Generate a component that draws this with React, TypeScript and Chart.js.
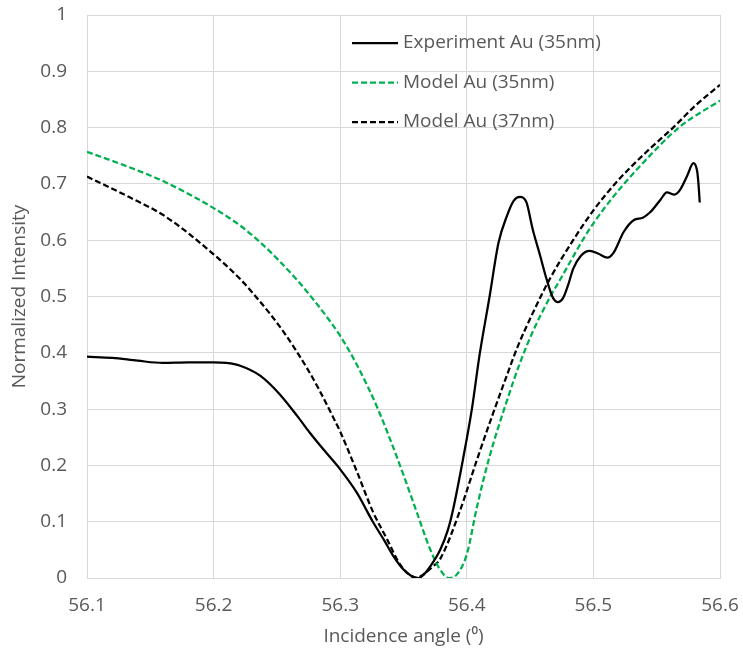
import React, { useEffect, useRef } from "react";
import { Chart, registerables } from "chart.js";

Chart.register(...registerables);

// Experiment Au (35nm)
const expAngle = [
  56.1, 56.12, 56.14, 56.16, 56.18, 56.2, 56.21, 56.221, 56.237, 56.252,
  56.266, 56.276, 56.288, 56.3, 56.313, 56.326, 56.335, 56.342, 56.35, 56.356,
  56.362, 56.366, 56.371, 56.379, 56.385, 56.389, 56.397, 56.404, 56.41, 56.418,
  56.425, 56.432, 56.437, 56.442, 56.447, 56.452, 56.458, 56.463, 56.468, 56.472,
  56.476, 56.48, 56.484, 56.49, 56.497, 56.504, 56.511, 56.516, 56.524, 56.532,
  56.539, 56.545, 56.553, 56.558, 56.564, 56.568, 56.574, 56.579, 56.582, 56.583,
  56.584,
];
const expIntensity = [
  0.393, 0.391, 0.386, 0.382, 0.383, 0.383, 0.382, 0.377, 0.359, 0.327,
  0.288, 0.258, 0.225, 0.193, 0.152, 0.099, 0.066, 0.039, 0.015, 0.004,
  0.0, 0.006, 0.02, 0.05, 0.085, 0.12, 0.211, 0.3, 0.395, 0.5,
  0.595, 0.645, 0.67, 0.677, 0.668, 0.62, 0.572, 0.531, 0.498, 0.49,
  0.497, 0.52, 0.549, 0.572, 0.581, 0.576, 0.569, 0.578, 0.615, 0.636,
  0.64, 0.65, 0.672, 0.685, 0.681, 0.688, 0.714, 0.737, 0.722, 0.7,
  0.667,
];

// Model Au (35nm)
const model35Angle = [
  56.1, 56.133, 56.162, 56.2, 56.221, 56.237, 56.252, 56.268, 56.279, 56.292,
  56.3, 56.31, 56.322, 56.33, 56.34, 56.35, 56.36, 56.37, 56.378, 56.386,
  56.392, 56.4, 56.408, 56.418, 56.432, 56.442, 56.452, 56.466, 56.474, 56.492,
  56.5, 56.516, 56.537, 56.568, 56.6,
];
const model35Intensity = [
  0.757, 0.73, 0.703, 0.657, 0.626, 0.596, 0.563, 0.524, 0.494, 0.456,
  0.43, 0.392, 0.339, 0.299, 0.243, 0.183, 0.12, 0.057, 0.018, 0.0,
  0.006, 0.042, 0.126, 0.216, 0.317, 0.382, 0.437, 0.5, 0.531, 0.602,
  0.63, 0.678, 0.732, 0.801, 0.848,
];

// Model Au (37nm)
const model37Angle = [
  56.1, 56.133, 56.162, 56.2, 56.221, 56.231, 56.245, 56.255, 56.264, 56.274,
  56.283, 56.295, 56.3, 56.313, 56.326, 56.337, 56.347, 56.353, 56.36, 56.366,
  56.373, 56.379, 56.395, 56.408, 56.421, 56.432, 56.44, 56.452, 56.466, 56.484,
  56.5, 56.519, 56.542, 56.563, 56.58, 56.6,
];
const model37Intensity = [
  0.713, 0.677, 0.642, 0.575, 0.531, 0.506, 0.468, 0.438, 0.408, 0.372,
  0.336, 0.283, 0.26, 0.19, 0.117, 0.069, 0.025, 0.009, 0.0, 0.007,
  0.02, 0.034, 0.122, 0.21, 0.294, 0.362, 0.41, 0.47, 0.533, 0.6,
  0.653, 0.705, 0.757, 0.8, 0.838, 0.876,
];

const seriesLabels = ["Experiment Au (35nm)", "Model Au (35nm)", "Model Au (37nm)"];
const xTitle = "Incidence angle (\u2070)";
const yTitle = "Normalized Intensity";

const FONT = "'Open Sans', sans-serif";
const TEXT = "#595959";
const GRID = "#d9d9d9";
const FS = 19;

const pts = (xs: number[], ys: number[]) => xs.map((x, i) => ({ x, y: ys[i] }));

const legendPlugin = {
  id: "insideLegend",
  afterDraw(chart: any) {
    const ctx = chart.ctx;
    const area = chart.chartArea;
    ctx.save();
    chart.data.datasets.forEach((ds: any, i: number) => {
      const y = area.top + 28 + i * 39.5;
      const x0 = area.left + 265;
      ctx.beginPath();
      ctx.strokeStyle = ds.borderColor;
      ctx.lineWidth = ds.borderWidth;
      ctx.setLineDash(ds.borderDash || []);
      ctx.moveTo(x0, y);
      ctx.lineTo(x0 + 46, y);
      ctx.stroke();
      ctx.setLineDash([]);
      ctx.fillStyle = TEXT;
      ctx.font = `${FS}px ${FONT}`;
      ctx.textBaseline = "middle";
      ctx.textAlign = "left";
      ctx.fillText(ds.label, x0 + 51, y);
    });
    ctx.restore();
  },
};

export default function App() {
  const ref = useRef<HTMLCanvasElement>(null);
  useEffect(() => {
    if (!ref.current) return;
    const chart = new Chart(ref.current, {
      type: "scatter",
      data: {
        datasets: [
          {
            label: seriesLabels[0],
            data: pts(expAngle, expIntensity),
            showLine: true,
            borderColor: "#000000",
            borderWidth: 2.25,
            pointRadius: 0,
            cubicInterpolationMode: "monotone",
          },
          {
            label: seriesLabels[1],
            data: pts(model35Angle, model35Intensity),
            showLine: true,
            borderColor: "#00B050",
            borderWidth: 2.25,
            borderDash: [6, 3],
            pointRadius: 0,
            cubicInterpolationMode: "monotone",
          },
          {
            label: seriesLabels[2],
            data: pts(model37Angle, model37Intensity),
            showLine: true,
            borderColor: "#000000",
            borderWidth: 2.25,
            borderDash: [6, 3],
            pointRadius: 0,
            cubicInterpolationMode: "monotone",
          },
        ],
      },
      options: {
        responsive: false,
        animation: false,
        layout: { padding: { top: 15, right: 23, left: 0, bottom: 0 } },
        plugins: { legend: { display: false }, tooltip: { enabled: false } },
        scales: {
          x: {
            type: "linear",
            min: 56.1,
            max: 56.6,
            ticks: {
              stepSize: 0.1,
              color: TEXT,
              font: { family: FONT, size: FS },
              padding: 16,
              maxRotation: 0,
              callback: (v: any) => (Math.round(Number(v) * 10) / 10).toFixed(1),
            },
            grid: { color: GRID, lineWidth: 1, drawTicks: false },
            border: { color: GRID },
            title: {
              display: true,
              text: xTitle,
              color: TEXT,
              font: { family: FONT, size: FS },
              padding: { top: 0, bottom: 5 },
            },
            afterFit: (s: any) => {
              s.height = 75;
              s.paddingLeft = 0;
              s.paddingRight = 0;
            },
          },
          y: {
            type: "linear",
            min: 0,
            max: 1,
            ticks: {
              stepSize: 0.1,
              color: TEXT,
              font: { family: FONT, size: FS },
              padding: 20,
              callback: (v: any) => {
                const r = Math.round(Number(v) * 10) / 10;
                return r === 0 ? "0" : r === 1 ? "1" : r.toFixed(1);
              },
            },
            grid: { color: GRID, lineWidth: 1, drawTicks: false },
            border: { color: GRID },
            title: {
              display: true,
              text: yTitle,
              color: TEXT,
              font: { family: FONT, size: FS },
              padding: { top: 8, bottom: 0 },
            },
            afterFit: (s: any) => {
              s.width = 87;
              s.paddingTop = 0;
              s.paddingBottom = 0;
            },
          },
        },
      },
      plugins: [legendPlugin],
    });
    return () => chart.destroy();
  }, []);
  return (
    <div style={{ position: "absolute", left: 0, top: 0, width: 743, height: 653, background: "#fff" }}>
      <canvas ref={ref} width={743} height={653} style={{ display: "block" }} />
    </div>
  );
}
